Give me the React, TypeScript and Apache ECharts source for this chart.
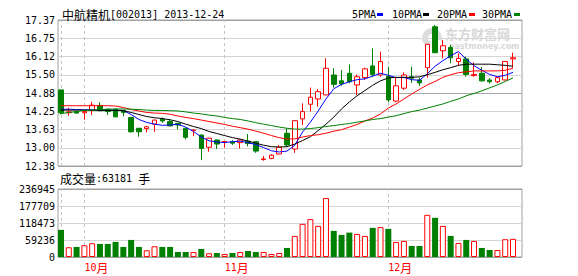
import React, { useEffect, useRef } from 'react';
import * as echarts from 'echarts';

const MONO = '"DejaVu Sans Mono", "Liberation Mono", monospace';
const CJK = '"Noto Sans CJK SC", "DejaVu Sans", sans-serif';

const dates = [
  '2013-09-26', '2013-09-27', '2013-09-30',
  '2013-10-08', '2013-10-09', '2013-10-10', '2013-10-11', '2013-10-14', '2013-10-15', '2013-10-16',
  '2013-10-17', '2013-10-18', '2013-10-21', '2013-10-22', '2013-10-23', '2013-10-24', '2013-10-25',
  '2013-10-28', '2013-10-29', '2013-10-30', '2013-10-31',
  '2013-11-01', '2013-11-04', '2013-11-05', '2013-11-06', '2013-11-07', '2013-11-08', '2013-11-11',
  '2013-11-12', '2013-11-13', '2013-11-14', '2013-11-15', '2013-11-18', '2013-11-19', '2013-11-20',
  '2013-11-21', '2013-11-22', '2013-11-25', '2013-11-26', '2013-11-27', '2013-11-28', '2013-11-29',
  '2013-12-02', '2013-12-03', '2013-12-04', '2013-12-05', '2013-12-06', '2013-12-09', '2013-12-10',
  '2013-12-11', '2013-12-12', '2013-12-13', '2013-12-16', '2013-12-17', '2013-12-18', '2013-12-19',
  '2013-12-20', '2013-12-23', '2013-12-24',
];

// [open, close, low, high]
const candles = [
  [14.98, 14.2, 14.14, 14.99],
  [14.2, 14.23, 14.1, 14.37],
  [14.24, 14.19, 14.17, 14.27],
  [14.2, 14.24, 13.96, 14.26],
  [14.29, 14.46, 14.12, 14.57],
  [14.45, 14.27, 14.25, 14.56],
  [14.32, 14.24, 14.12, 14.34],
  [14.32, 14.06, 14.05, 14.33],
  [14.28, 14.21, 14.08, 14.3],
  [14.04, 13.55, 13.52, 14.05],
  [13.67, 13.55, 13.38, 13.68],
  [13.66, 13.72, 13.53, 13.75],
  [13.81, 13.95, 13.55, 13.96],
  [13.98, 13.92, 13.86, 14.04],
  [13.9, 13.75, 13.74, 13.98],
  [13.84, 13.78, 13.63, 13.85],
  [13.67, 13.36, 13.29, 13.68],
  [13.59, 13.61, 13.4, 13.62],
  [13.44, 12.98, 12.58, 13.45],
  [13.02, 13.33, 12.87, 13.34],
  [13.27, 13.13, 12.96, 13.28],
  [13.19, 13.22, 13.01, 13.23],
  [13.21, 13.16, 13.1, 13.26],
  [13.18, 13.27, 12.98, 13.28],
  [13.23, 13.15, 13.05, 13.47],
  [13.21, 12.89, 12.83, 13.22],
  [12.6, 12.62, 12.56, 12.72],
  [12.64, 12.75, 12.61, 12.78],
  [12.79, 13.02, 12.78, 13.1],
  [13.5, 13.1, 13.04, 13.67],
  [12.96, 13.93, 12.83, 13.94],
  [13.99, 14.24, 13.78, 14.52],
  [14.49, 14.73, 14.24, 15.06],
  [14.67, 14.92, 14.41, 15.01],
  [14.81, 15.72, 14.8, 16.06],
  [15.49, 15.17, 15.06, 15.72],
  [15.29, 15.19, 15.12, 15.66],
  [15.55, 15.26, 15.21, 15.85],
  [15.15, 15.43, 14.81, 15.51],
  [15.4, 15.7, 15.32, 15.74],
  [15.8, 15.51, 15.43, 16.4],
  [15.49, 15.95, 15.43, 16.29],
  [15.45, 14.64, 14.56, 15.77],
  [14.6, 15.12, 14.56, 15.43],
  [15.04, 15.49, 14.98, 15.58],
  [15.43, 15.38, 15.22, 15.77],
  [15.32, 15.22, 15.12, 15.4],
  [15.74, 16.54, 15.4, 16.55],
  [17.14, 16.25, 16.24, 17.2],
  [16.32, 16.49, 16.06, 16.69],
  [16.43, 16.08, 15.89, 16.52],
  [15.95, 16.06, 15.8, 16.23],
  [16.04, 15.51, 15.43, 16.12],
  [15.47, 15.51, 15.43, 15.92],
  [15.55, 15.29, 15.26, 15.77],
  [15.32, 15.26, 15.2, 15.38],
  [15.26, 15.4, 15.21, 15.41],
  [15.32, 15.95, 15.31, 15.96],
  [16.04, 16.08, 15.74, 16.25],
];

const ma5 = [
  14.32, 14.32, 14.31, 14.3, 14.29, 14.29, 14.29, 14.29, 14.28, 14.14,
  13.97, 13.87, 13.81, 13.77, 13.78, 13.81, 13.71, 13.56, 13.37, 13.24,
  13.2, 13.18, 13.21, 13.23, 13.18, 13.11, 13.01, 12.9, 12.86, 12.89,
  13.09, 13.54, 13.88, 14.26, 14.67, 15.02, 15.17, 15.26, 15.33, 15.36,
  15.45, 15.55, 15.48, 15.4, 15.41, 15.33, 15.31, 15.53, 15.79, 15.98,
  16.15, 16.29, 16.03, 15.81, 15.65, 15.51, 15.43, 15.48, 15.58,
];
const ma10 = [
  14.29, 14.29, 14.29, 14.29, 14.29, 14.28, 14.28, 14.28, 14.27, 14.21,
  14.14, 14.07, 14.03, 14.0, 13.96, 13.9, 13.81, 13.73, 13.66, 13.56,
  13.49, 13.42, 13.35, 13.3, 13.23, 13.16, 13.09, 13.04, 13.03, 13.04,
  13.13, 13.25, 13.38, 13.59, 13.81, 14.05, 14.33, 14.57, 14.78, 14.96,
  15.14, 15.29, 15.39, 15.41, 15.41, 15.41, 15.43, 15.5, 15.58, 15.67,
  15.74, 15.82, 15.86, 15.86, 15.86, 15.86, 15.84, 15.82, 15.79,
];
const ma20 = [
  14.44, 14.44, 14.44, 14.44, 14.44, 14.44, 14.44, 14.43, 14.38, 14.31,
  14.26, 14.21, 14.19, 14.18, 14.15, 14.09, 14.04, 14.0, 13.95, 13.9,
  13.85, 13.8, 13.74, 13.69, 13.64, 13.57, 13.5, 13.42, 13.35, 13.3,
  13.31, 13.37, 13.42, 13.45, 13.5, 13.57, 13.62, 13.71, 13.8, 13.92,
  14.02, 14.16, 14.36, 14.5, 14.67, 14.84, 15.0, 15.15, 15.27, 15.41,
  15.5, 15.57, 15.6, 15.63, 15.63, 15.63, 15.63, 15.65, 15.72,
];
const ma30 = [
  14.17, 14.21, 14.24, 14.28, 14.29, 14.31, 14.32, 14.33, 14.33, 14.32,
  14.31, 14.29, 14.28, 14.28, 14.27, 14.26, 14.23, 14.19, 14.16, 14.12,
  14.09, 14.04, 14.0, 13.97, 13.92, 13.86, 13.81, 13.76, 13.71, 13.67,
  13.64, 13.64, 13.66, 13.69, 13.73, 13.76, 13.8, 13.83, 13.88, 13.92,
  13.97, 14.0, 14.05, 14.1, 14.17, 14.24, 14.29, 14.36, 14.43, 14.5,
  14.59, 14.67, 14.78, 14.86, 14.95, 15.05, 15.15, 15.27, 15.39,
];

const volumes = [
  94500, 33950, 35000, 40950, 47950, 45500, 45500, 52500, 35000, 59500,
  35000, 23450, 37450, 35000, 35000, 17500, 17500, 17500, 28000, 12950,
  14000, 10500, 14000, 17500, 21000, 17500, 17500, 10500, 14000, 31500,
  73500, 115500, 131900, 108500, 205400, 91000, 77000, 85000, 80500, 73500,
  101500, 104000, 98000, 52500, 56000, 38500, 38500, 147000, 136500, 108500,
  73500, 49000, 59500, 56000, 31500, 24500, 24500, 62000, 63181,
];

const priceTicks = ['12.38', '13.00', '13.63', '14.25', '14.88', '15.50', '16.12', '16.75', '17.37'];
const volumeTicks = ['0', '59236', '118473', '177709', '236945'];

const UP = '#ff0000';
const DOWN = '#008000';

export default function App() {
  const ref = useRef<HTMLDivElement>(null);

  useEffect(() => {
    const chart = echarts.init(ref.current!, null, { renderer: 'svg' });

    const monthStarts = dates.filter((d, i) => i === 0 || d.slice(5, 7) !== dates[i - 1].slice(5, 7));
    const isLabelled = (i: number) => i > 0 && dates[i].slice(5, 7) !== dates[i - 1].slice(5, 7);

    const frameColor = '#a0a0a0';
    const lightGrid = '#d4d4d4';
    const priceSplitColors = priceTicks.map((_, i) =>
      i === 0 || i === priceTicks.length - 1 ? frameColor : i === 4 ? '#a8a8a8' : lightGrid
    );
    const volSplitColors = volumeTicks.map((_, i) =>
      i === 0 || i === volumeTicks.length - 1 ? frameColor : lightGrid
    );

    const markLine = {
      symbol: 'none',
      silent: true,
      z: 1,
      label: { show: false },
      lineStyle: { color: '#c4c4c4', type: [3, 3], width: 1 },
      data: monthStarts.map((d) => ({ xAxis: d })),
    };

    const labelStyle = { fontFamily: MONO, fontSize: 10, color: '#000' };

    const option: any = {
      animation: false,
      backgroundColor: '#fff',
      grid: [
        { left: 58, top: 20, width: 464, height: 146, show: true, borderColor: frameColor, borderWidth: 1 },
        { left: 57.1, top: 20, width: 459.8, height: 146 },
        { left: 58, top: 189, width: 464, height: 68, show: true, borderColor: frameColor, borderWidth: 1 },
        { left: 57.1, top: 189, width: 459.8, height: 68 },
      ],
      xAxis: [
        { gridIndex: 0, type: 'value', min: 0, max: 1, show: false },
        { gridIndex: 1, type: 'category', data: dates, boundaryGap: true, show: false },
        { gridIndex: 2, type: 'value', min: 0, max: 1, show: false },
        {
          gridIndex: 3,
          type: 'category',
          data: dates,
          boundaryGap: true,
          axisLine: { show: false },
          axisTick: { show: false },
          splitLine: { show: false },
          axisLabel: {
            interval: (i: number) => isLabelled(i),
            align: 'left',
            margin: 4,
            formatter: (v: string) => `{n|${parseInt(v.slice(5, 7), 10)}}{m|月}`,
            rich: {
              n: { fontFamily: MONO, fontSize: 10, color: UP },
              m: { fontFamily: CJK, fontSize: 12, color: UP },
            },
          },
        },
      ],
      yAxis: [
        {
          gridIndex: 0,
          type: 'value',
          min: 0,
          max: priceTicks.length - 1,
          interval: 1,
          axisLine: { show: false },
          axisTick: { show: false },
          axisLabel: { ...labelStyle, margin: 3, formatter: (v: number) => priceTicks[v] },
          splitLine: { show: true, lineStyle: { color: priceSplitColors, width: 1 } },
        },
        { gridIndex: 1, type: 'value', min: 12.38, max: 17.37, show: false },
        {
          gridIndex: 2,
          type: 'value',
          min: 0,
          max: volumeTicks.length - 1,
          interval: 1,
          axisLine: { show: false },
          axisTick: { show: false },
          axisLabel: { ...labelStyle, margin: 3, padding: [6, 0, 0, 0], formatter: (v: number) => volumeTicks[v] },
          splitLine: { show: true, lineStyle: { color: volSplitColors, width: 1 } },
        },
        { gridIndex: 3, type: 'value', min: 0, max: 236945, show: false },
      ],
      series: [
        {
          name: 'K',
          type: 'candlestick',
          xAxisIndex: 1,
          yAxisIndex: 1,
          barWidth: 5,
          data: candles,
          itemStyle: {
            color: '#ffffff',
            color0: DOWN,
            borderColor: UP,
            borderColor0: DOWN,
            borderWidth: 1,
          },
          markLine,
          z: 2,
        },
        ...[
          { name: '5PMA', data: ma5, color: '#0000ff' },
          { name: '10PMA', data: ma10, color: '#000000' },
          { name: '20PMA', data: ma20, color: '#ff0000' },
          { name: '30PMA', data: ma30, color: '#008000' },
        ].map((s) => ({
          name: s.name,
          type: 'line',
          xAxisIndex: 1,
          yAxisIndex: 1,
          data: s.data,
          showSymbol: false,
          symbol: 'none',
          lineStyle: { width: 1, color: s.color },
          itemStyle: { color: s.color },
          z: 3,
        })),
        {
          name: '成交量',
          type: 'bar',
          xAxisIndex: 3,
          yAxisIndex: 3,
          barWidth: 6,
          data: volumes.map((v, i) => {
            const up = candles[i][1] >= candles[i][0];
            return {
              value: v,
              itemStyle: up
                ? { color: '#ffffff', borderColor: UP, borderWidth: 1 }
                : { color: DOWN, borderColor: DOWN, borderWidth: 0 },
            };
          }),
          markLine,
          z: 2,
        },
      ],
      graphic: [
        {
          type: 'text',
          x: 62,
          y: 14,
          z: 10,
          style: {
            text: '{c|中航精机}{a|[002013] 2013-12-24}',
            verticalAlign: 'middle',
            rich: {
              c: { fontFamily: CJK, fontSize: 12, fill: '#000' },
              a: { fontFamily: MONO, fontSize: 10, fill: '#000' },
            },
          },
        },
        {
          type: 'text',
          x: 60,
          y: 178,
          z: 10,
          style: {
            text: '{c|成交量}{a|:63181 }{c|手}',
            verticalAlign: 'middle',
            rich: {
              c: { fontFamily: CJK, fontSize: 12, fill: '#000' },
              a: { fontFamily: MONO, fontSize: 10, fill: '#000' },
            },
          },
        },
        ...[
          { t: '5PMA', x: 352, r: 377, c: '#0000ff' },
          { t: '10PMA', x: 392, r: 423, c: '#000000' },
          { t: '20PMA', x: 437, r: 469, c: '#ff0000' },
          { t: '30PMA', x: 482, r: 514, c: '#008000' },
        ].flatMap((l) => [
          {
            type: 'text',
            x: l.x,
            y: 14,
            z: 10,
            style: { text: l.t, fontFamily: MONO, fontSize: 10, fill: '#000', verticalAlign: 'middle' },
          },
          { type: 'rect', z: 10, shape: { x: l.r, y: 13, width: 6, height: 3 }, style: { fill: l.c } },
        ]),
        // watermark
        {
          type: 'sector',
          z: 1,
          shape: { cx: 432, cy: 38, r: 10, r0: 4, startAngle: Math.PI * 0.6, endAngle: Math.PI * 2.1 },
          style: { fill: '#dcdcdc' },
        },
        {
          type: 'text',
          x: 445,
          y: 33,
          z: 1,
          style: {
            text: '东方财富网',
            fontFamily: CJK,
            fontSize: 13,
            lineHeight: 13,
            fontWeight: 'bold',
            fill: '#d8d8d8',
            verticalAlign: 'middle',
          },
        },
        {
          type: 'text',
          x: 449,
          y: 46,
          z: 1,
          style: {
            text: 'eastmoney.com',
            fontFamily: '"DejaVu Sans", sans-serif',
            fontSize: 8,
            lineHeight: 8,
            fontWeight: 'bold',
            fill: '#d8d8d8',
            verticalAlign: 'middle',
          },
        },
      ],
    };

    chart.setOption(option);
    return () => chart.dispose();
  }, []);

  return (
    <div
      ref={ref}
      style={{ position: 'fixed', left: 0, top: 0, width: 578, height: 276, background: '#fff' }}
    />
  );
}
